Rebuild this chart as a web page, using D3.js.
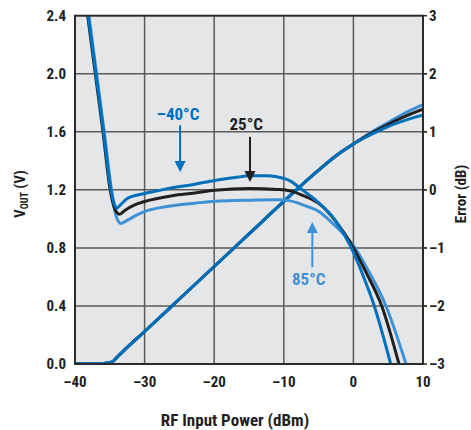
<!DOCTYPE html>
<html>
<head>
<meta charset="utf-8">
<script src="https://cdn.jsdelivr.net/npm/d3@7"></script>
<style>
  body { margin: 0; background: #fff; }
  text { font-family: "Liberation Sans Narrow", "Arial Narrow", "Roboto Condensed", "DejaVu Sans Condensed", sans-serif; font-weight: bold; }
</style>
</head>
<body>
<div id="chart"></div>
<script>
// VOUT curves: [dBm, V]
const voutM40 = [[-38.1,2.4],[-37.0,2.0],[-35.9,1.6],[-34.85,1.2],[-34.4,1.11],[-34.0,1.074],[-33.4,1.10],[-32.5,1.14],[-31,1.165],[-30,1.175],[-27,1.205],[-22.8,1.239],[-19.9,1.265],[-17,1.285],[-14.9,1.297],[-12.5,1.298],[-11,1.29],[-9.1,1.262],[-7.2,1.195],[-5.3,1.124],[-2.6,0.99],[-0.4,0.81],[1.3,0.62],[3.0,0.4],[5.36,0]];
const vout25 = [[-38.18,2.4],[-37.08,2.0],[-35.98,1.6],[-34.95,1.2],[-34.3,1.07],[-33.6,1.032],[-32.8,1.06],[-31.5,1.095],[-30,1.12],[-26,1.16],[-22.8,1.178],[-19.9,1.198],[-14.9,1.21],[-11,1.203],[-9.1,1.193],[-7.2,1.16],[-4.8,1.1],[-2.64,0.99],[0,0.8],[1.8,0.633],[4.07,0.4],[6.55,0]];
const vout85 = [[-38.0,2.4],[-36.9,2.0],[-35.8,1.6],[-34.75,1.2],[-34.1,1.02],[-33.4,0.968],[-32.5,0.99],[-31,1.03],[-30,1.05],[-26,1.09],[-22.8,1.108],[-19.9,1.122],[-14.9,1.129],[-11,1.131],[-9.1,1.124],[-7.2,1.095],[-4.8,1.045],[-3.36,0.986],[0.23,0.8],[2.0,0.655],[4.68,0.4],[7.56,0]];

// Error curves (dB) at shared input powers
const errPower = [-40,-36,-35.2,-34.5,-34,-33,-30,-25,-20,-15,-10,-5,-2,0,2.5,5,7.5,10];
const errM40 = [-2.99,-2.99,-2.98,-2.95,-2.89,-2.77,-2.44,-1.88,-1.32,-0.76,-0.2,0.34,0.63,0.79,0.95,1.09,1.20,1.29];
const err25  = [-2.99,-2.99,-2.98,-2.95,-2.89,-2.77,-2.44,-1.88,-1.32,-0.76,-0.2,0.34,0.63,0.79,0.97,1.13,1.27,1.39];
const err85  = [-2.99,-2.99,-2.98,-2.95,-2.89,-2.77,-2.44,-1.88,-1.32,-0.76,-0.2,0.34,0.63,0.79,0.99,1.16,1.33,1.47];

const xTicks = [-40,-30,-20,-10,0,10];
const yTicks = [0,0.4,0.8,1.2,1.6,2.0,2.4];
const errTicks = [-3,-2,-1,0,1,2,3];

// annotation text + arrow (data coordinates)
const notes = [
  { label: "\u201340\u00b0C", tx: -25.2, ty: 1.68, ax: -24.9, y1: 1.645, y2: 1.323, color: "#0070bb" },
  { label: "25\u00b0C", tx: -15.4, ty: 1.611, ax: -14.86, y1: 1.565, y2: 1.254, color: "#231f20" },
  { label: "85\u00b0C", tx: -6.42, ty: 0.541, ax: -5.9, y1: 0.667, y2: 0.978, color: "#3d91d6" }
];

const colors = { m40: "#0070bb", c25: "#231f20", c85: "#3d91d6" };

const margin = { top: 15.7, right: 48, bottom: 66, left: 75 };
const width = 471 - margin.left - margin.right;
const height = 430 - margin.top - margin.bottom;

const svg = d3.select("#chart")
  .append("svg")
  .attr("width", 471)
  .attr("height", 430);

const g = svg.append("g")
  .attr("transform", `translate(${margin.left},${margin.top})`);

const x = d3.scaleLinear().domain([-40, 10]).range([0, width]);
const y = d3.scaleLinear().domain([0, 2.4]).range([height, 0]);
const yErr = d3.scaleLinear().domain([-3, 3]).range([height, 0]);

const fmtMinus = s => String(s).replace("-", "\u2013");

// background
g.append("rect")
  .attr("width", width)
  .attr("height", height)
  .attr("fill", "#e5e6e8");

// grid
g.append("g")
  .selectAll("line")
  .data(xTicks.slice(1, -1))
  .join("line")
  .attr("x1", d => x(d)).attr("x2", d => x(d))
  .attr("y1", 0).attr("y2", height)
  .attr("stroke", "#5a5a5a").attr("stroke-width", 1.5);

g.append("g")
  .selectAll("line")
  .data(yTicks.slice(1, -1))
  .join("line")
  .attr("x1", 0).attr("x2", width + 4)
  .attr("y1", d => y(d)).attr("y2", d => y(d))
  .attr("stroke", "#5a5a5a").attr("stroke-width", 1.5);

// curves
g.append("clipPath").attr("id", "clip")
  .append("rect").attr("width", width).attr("height", height);

const line = d3.line()
  .x(d => x(d[0]))
  .y(d => y(d[1]))
  .curve(d3.curveMonotoneX);

const errLine = d3.line()
  .x(d => x(d[0]))
  .y(d => yErr(d[1]))
  .curve(d3.curveMonotoneX);

const plot = g.append("g").attr("clip-path", "url(#clip)");

const errSeries = [
  { vals: err85, color: colors.c85 },
  { vals: err25, color: colors.c25 },
  { vals: errM40, color: colors.m40 }
];
const voutSeries = [
  { vals: vout85, color: colors.c85 },
  { vals: vout25, color: colors.c25 },
  { vals: voutM40, color: colors.m40 }
];

errSeries.forEach(s => {
  plot.append("path")
    .datum(errPower.map((p, i) => [p, s.vals[i]]))
    .attr("fill", "none")
    .attr("stroke", s.color)
    .attr("stroke-width", 3)
    .attr("d", errLine);
});

voutSeries.forEach(s => {
  plot.append("path")
    .datum(s.vals)
    .attr("fill", "none")
    .attr("stroke", s.color)
    .attr("stroke-width", 3)
    .attr("d", line);
});

// frame
g.append("rect")
  .attr("width", width)
  .attr("height", height)
  .attr("fill", "none")
  .attr("stroke", "#2b2b2b")
  .attr("stroke-width", 2);

// left axis labels
g.append("g")
  .selectAll("text")
  .data(yTicks)
  .join("text")
  .attr("x", -9)
  .attr("y", d => y(d))
  .attr("dy", "0.36em")
  .attr("text-anchor", "end")
  .attr("font-size", 15)
  .attr("fill", "#231f20")
  .text(d => d.toFixed(1));

// right axis labels + ticks
g.append("g")
  .selectAll("line")
  .data(errTicks)
  .join("line")
  .attr("x1", width).attr("x2", width + 4)
  .attr("y1", d => yErr(d)).attr("y2", d => yErr(d))
  .attr("stroke", "#2b2b2b").attr("stroke-width", 1.5);

g.append("g")
  .selectAll("text")
  .data(errTicks)
  .join("text")
  .attr("x", width + 6)
  .attr("y", d => yErr(d))
  .attr("dy", "0.36em")
  .attr("text-anchor", "start")
  .attr("font-size", 15)
  .attr("fill", "#231f20")
  .text(d => fmtMinus(d));

// bottom axis labels
g.append("g")
  .selectAll("text")
  .data(xTicks)
  .join("text")
  .attr("x", d => x(d))
  .attr("y", height + 23)
  .attr("text-anchor", "middle")
  .attr("font-size", 15)
  .attr("fill", "#231f20")
  .text(d => fmtMinus(d));

// axis titles
svg.append("text")
  .attr("x", 235)
  .attr("y", 426)
  .attr("text-anchor", "middle")
  .attr("font-size", 17)
  .attr("fill", "#231f20")
  .text("RF Input Power (dBm)");

const yTitle = svg.append("text")
  .attr("transform", "translate(25,194) rotate(-90)")
  .attr("text-anchor", "middle")
  .attr("font-size", 15)
  .attr("fill", "#231f20");
yTitle.append("tspan").text("V");
yTitle.append("tspan").attr("font-size", 10).attr("dy", 3).text("OUT");
yTitle.append("tspan").attr("dy", -3).text("  (V)");

svg.append("text")
  .attr("transform", "translate(466,194) rotate(-90)")
  .attr("text-anchor", "middle")
  .attr("font-size", 15)
  .attr("fill", "#231f20")
  .text("Error (dB)");

// annotations
notes.forEach(n => {
  g.append("text")
    .attr("x", x(n.tx))
    .attr("y", y(n.ty))
    .attr("text-anchor", "middle")
    .attr("font-size", 17)
    .attr("fill", n.color)
    .text(n.label);

  const x0 = x(n.ax), ya = y(n.y1), yb = y(n.y2);
  const dir = yb > ya ? 1 : -1;
  g.append("line")
    .attr("x1", x0).attr("x2", x0)
    .attr("y1", ya).attr("y2", yb - dir * 8)
    .attr("stroke", n.color).attr("stroke-width", 2);
  g.append("path")
    .attr("d", `M${x0 - 5.5},${yb - dir * 11} L${x0 + 5.5},${yb - dir * 11} L${x0},${yb} Z`)
    .attr("fill", n.color);
});
</script>
</body>
</html>
